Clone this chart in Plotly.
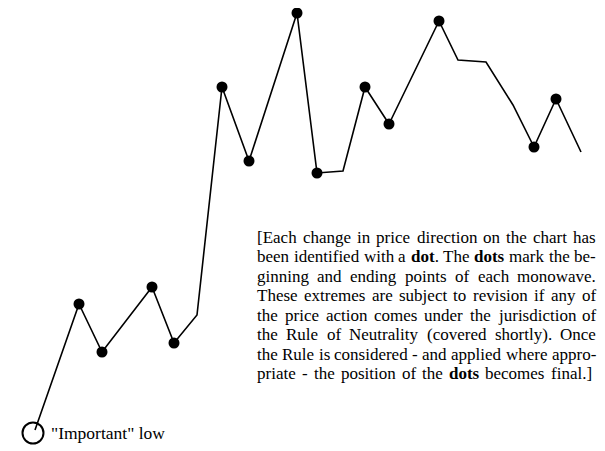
import re
import plotly.graph_objects as go

# turning points of the price path (x = time, y = price, in chart units)
path_x = [35, 79, 102, 152, 174, 197, 222, 249, 297, 317, 343, 365, 389, 439, 458, 486, 513, 534, 556, 581]
path_y = [21, 147, 99, 164, 108, 136, 364, 290, 438, 278, 280, 364, 327, 430, 391, 389, 346, 304, 352, 299]
# which of those points get a dot
dot_idx = [1, 2, 3, 4, 6, 7, 8, 9, 11, 12, 13, 17, 18]

note_lines = [
    "[Each change in price direction on the chart has",
    "been identified with a <b>dot</b>. The <b>dots</b> mark the be-",
    "ginning and ending points of each monowave.",
    "These extremes are subject to revision if any of",
    "the price action comes under the jurisdiction of",
    "the Rule of Neutrality (covered shortly).  Once",
    "the Rule is considered - and applied where appro-",
    "priate - the position of the <b>dots</b> becomes final.]",
]
low_label = '"Important" low'

# Times / Liberation Serif advance widths (per 1000 em) used to justify the note
REG = dict(zip("abcdefghijklmnopqrstuvwxyz",
               [444, 500, 444, 500, 444, 333, 500, 500, 278, 278, 500, 278, 778,
                500, 500, 500, 500, 333, 389, 278, 500, 500, 722, 500, 500, 444]))
REG.update({"E": 611, "T": 611, "R": 667, "N": 722, "O": 722, "I": 333,
            "[": 333, "]": 333, "(": 333, ")": 333, ".": 250, ",": 250,
            "-": 333, '"': 408})
BOLD = {"d": 556, "o": 500, "t": 333, "s": 389}
FONT = 17


def word_width(word):
    w = 0
    for part in re.split(r"(<b>.*?</b>)", word):
        if part.startswith("<b>"):
            w += sum(BOLD[c] for c in part[3:-4])
        else:
            w += sum(REG[c] for c in part)
    return w * FONT / 1000


fig = go.Figure()
fig.add_trace(go.Scatter(x=path_x, y=path_y, mode="lines",
                         line=dict(color="black", width=1.6), hoverinfo="skip"))
fig.add_trace(go.Scatter(x=[path_x[i] for i in dot_idx], y=[path_y[i] for i in dot_idx],
                         mode="markers", marker=dict(color="black", size=11)))
fig.add_trace(go.Scatter(x=[path_x[0] - 2], y=[path_y[0] - 3], mode="markers",
                         marker=dict(symbol="circle-open", color="black", size=21,
                                     line=dict(width=2, color="black"))))

fig.add_annotation(x=49, y=path_y[0] - 3, text=low_label, showarrow=False,
                   xanchor="left", yanchor="middle",
                   font=dict(family="Liberation Serif", size=17.5, color="black"))

left, right = 256, 595
for k, line in enumerate(note_lines):
    words = line.split()
    widths = [word_width(w) for w in words]
    end = right if k < len(note_lines) - 1 else 591
    gap = (end - left - sum(widths)) / (len(words) - 1)
    xpos = left
    ypix = 243 + 19.57 * k - 6
    for w, wd in zip(words, widths):
        fig.add_annotation(x=xpos, y=451 - ypix, text=w, showarrow=False,
                           xanchor="left", yanchor="middle", borderpad=0,
                           font=dict(family="Liberation Serif", size=FONT, color="black"))
        xpos += wd + gap

fig.update_layout(width=605, height=451, margin=dict(l=0, r=0, t=0, b=0),
                  paper_bgcolor="white", plot_bgcolor="white", showlegend=False)
# page body adds an 8px margin; shift ranges so chart units line up with the window
fig.update_xaxes(range=[8, 613], visible=False)
fig.update_yaxes(range=[-8, 443], visible=False)
fig.write_html("out.html")
